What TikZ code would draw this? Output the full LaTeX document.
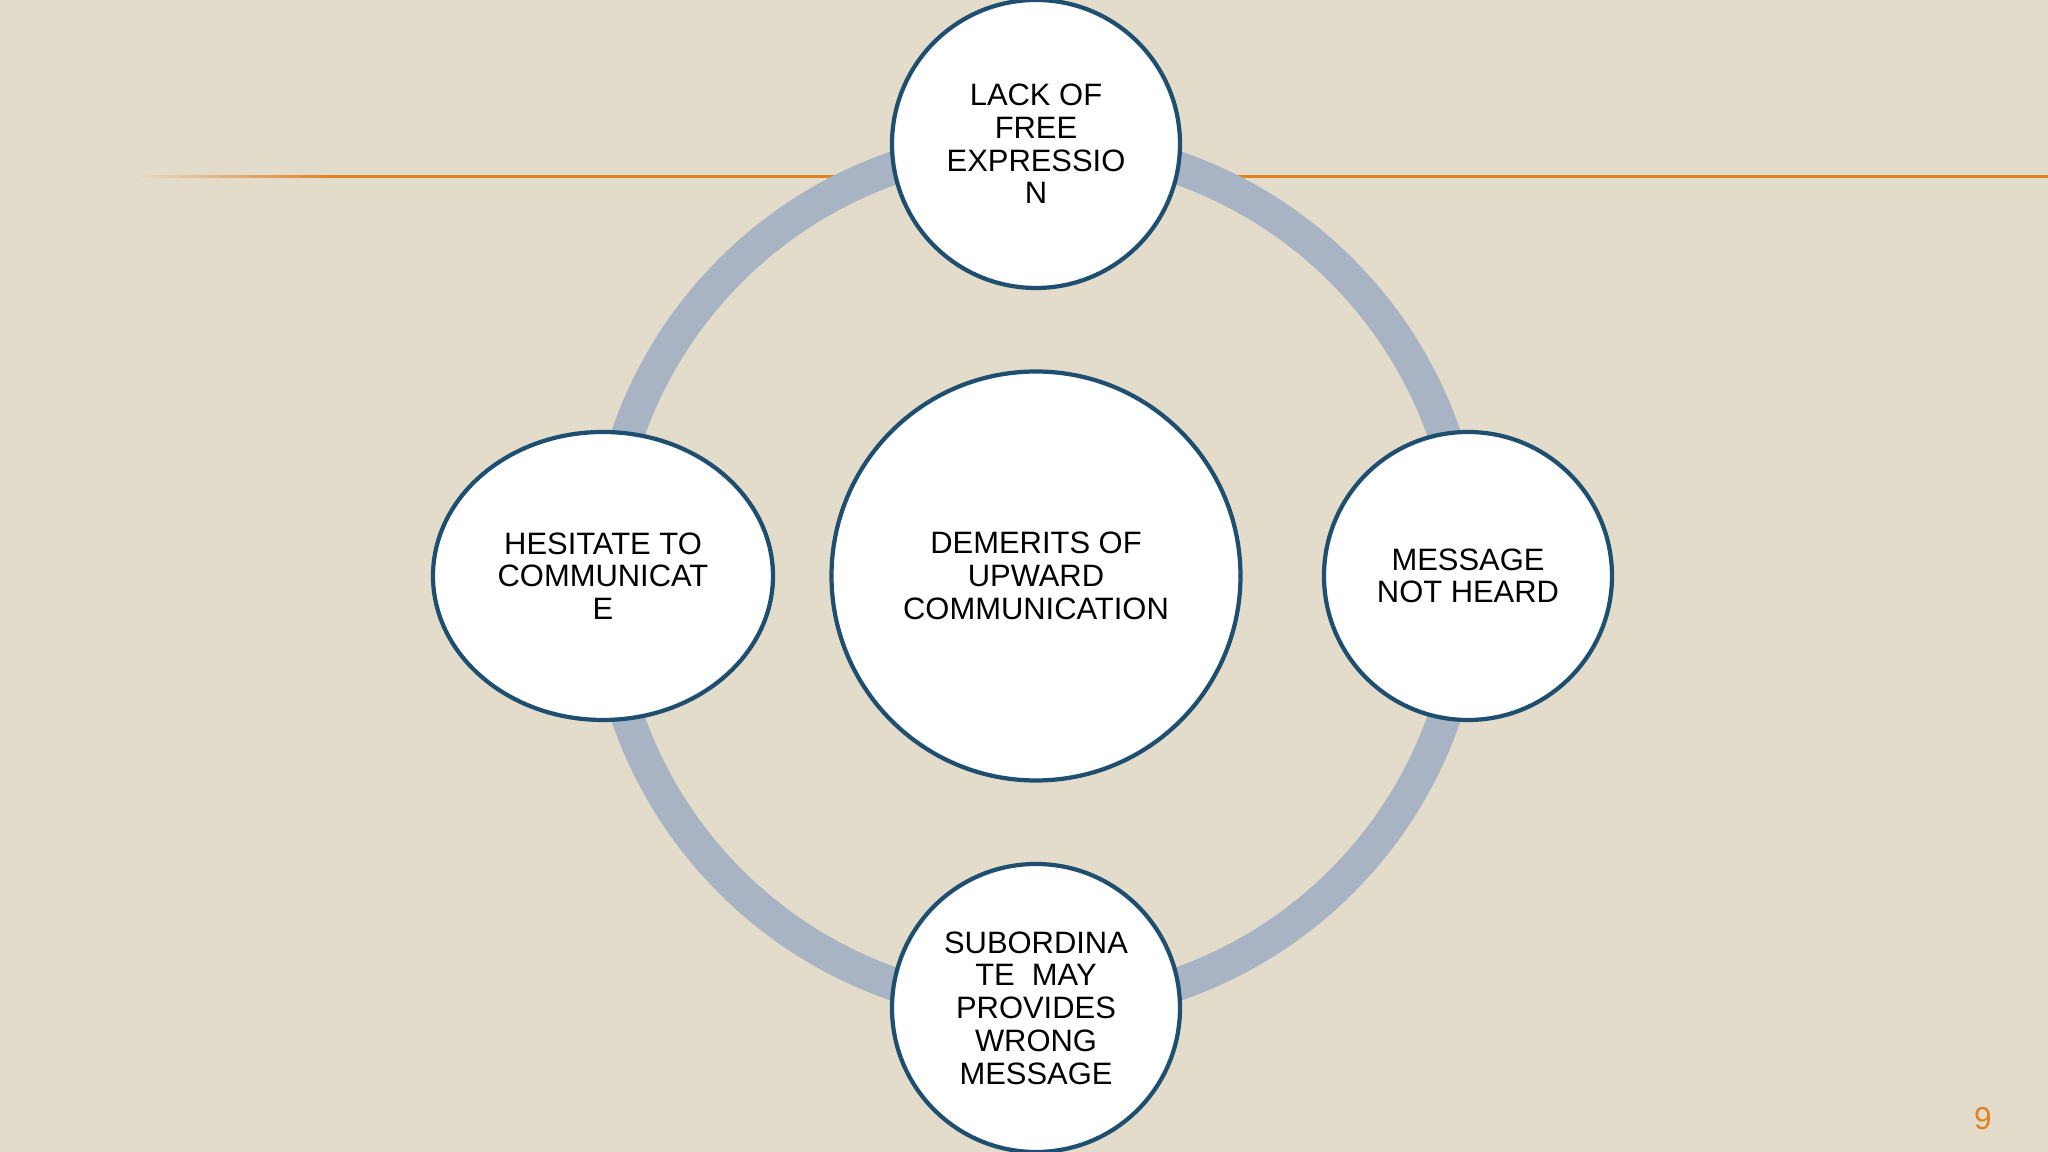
\documentclass[tikz,border=0pt]{standalone}
\usepackage{fontspec}
\setmainfont{Liberation Sans}
\usepackage{xcolor}
\usetikzlibrary{shapes.geometric}
\definecolor{slidebg}{RGB}{227,220,203}
\definecolor{ringgray}{RGB}{168,180,196}
\definecolor{edgeblue}{RGB}{30,78,112}
\definecolor{accentorange}{RGB}{228,128,30}
\newcommand{\slidefont}{\fontsize{8.8}{9.3}\selectfont}
\tikzset{
  hubcircle/.style={circle,draw=edgeblue,line width=1.2pt,fill=white,minimum size=4.09cm,inner sep=0pt,align=center,font=\slidefont},
  spokecircle/.style={circle,draw=edgeblue,line width=1.2pt,fill=white,minimum size=2.88cm,inner sep=0pt,align=center,font=\slidefont},
  spokeoval/.style={ellipse,draw=edgeblue,line width=1.2pt,fill=white,minimum width=3.4cm,minimum height=2.88cm,inner sep=0pt,align=center,font=\slidefont},
  ring/.style={draw=ringgray,line width=0.33cm}
}

\begin{document}
\begin{tikzpicture}
  % slide background
  \fill[slidebg] (0,0) rectangle (20.48,11.52);
  \useasboundingbox (0,0) rectangle (20.48,11.52);

  % accent line, fading in from the left
  \foreach \i in {1,...,20}
    \fill[accentorange,opacity=\i/20] ({1.4+(\i-1)*0.1},9.735) rectangle ({1.4+\i*0.1},9.765);
  \fill[accentorange] (3.4,9.735) rectangle (20.48,9.765);

  \coordinate (mid) at (10.36,5.76);
  \draw[ring] (mid) circle[radius=4.32cm];

  \node[hubcircle] (hub) at (mid) {DEMERITS OF\\UPWARD\\COMMUNICATION};
  \node[spokecircle] (top) at (10.36,10.08) {LACK OF\\FREE\\EXPRESSIO\\N};
  \node[spokecircle] (right) at (14.68,5.76) {MESSAGE\\NOT HEARD};
  \node[spokecircle] (bottom) at (10.36,1.44) {SUBORDINA\\TE\ \ MAY\\PROVIDES\\WRONG\\MESSAGE};
  \node[spokeoval] (left) at (6.03,5.76) {HESITATE TO\\COMMUNICAT\\E};

  % slide number
  \node[text=accentorange,font=\fontsize{9}{10}\selectfont] (pagenum) at (19.83,0.33) {9};
\end{tikzpicture}
\end{document}
